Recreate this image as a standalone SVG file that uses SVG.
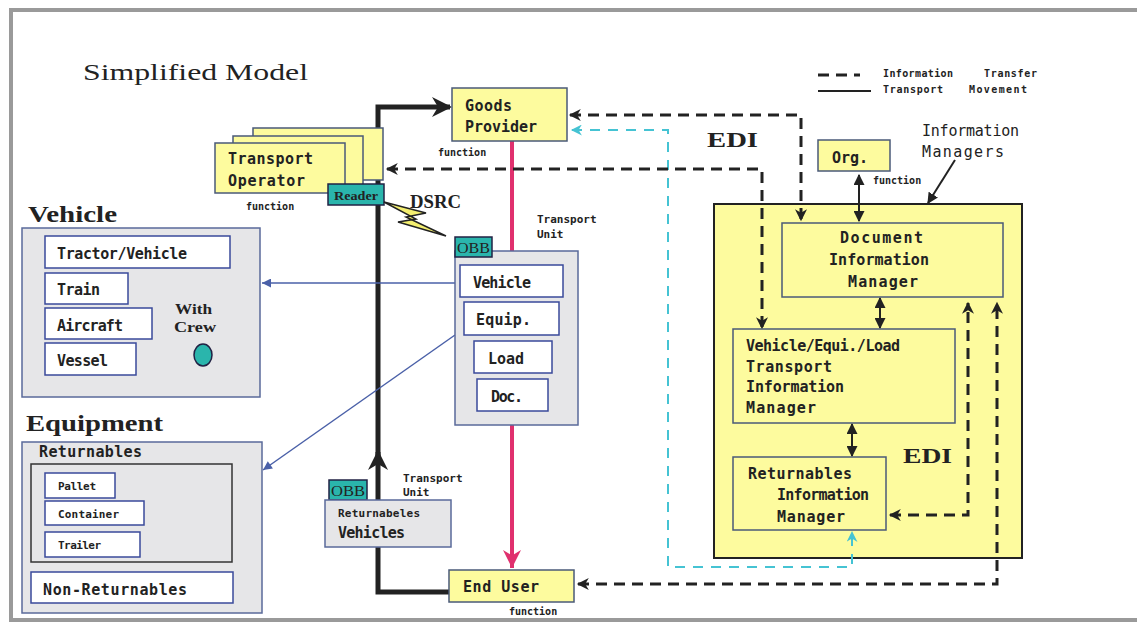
<svg xmlns="http://www.w3.org/2000/svg" width="1137" height="627" viewBox="0 0 1137 627">
<style>
.bg{fill:#fff}
.frame{fill:none;stroke:#9a9a9a;stroke-width:4}
.yel{fill:#fdfb9e;stroke:#4a5a78;stroke-width:1.5}
.yelbig{fill:#fdfb9e;stroke:#222;stroke-width:2}
.gray{fill:#e6e6e8;stroke:#5a6a9a;stroke-width:1.5}
.wbox{fill:#fff;stroke:#3a4a9a;stroke-width:1.5}
.dark{fill:#e6e6e8;stroke:#333;stroke-width:1.5}
.teal{fill:#2ab5ac;stroke:#224;stroke-width:1.5}
.m{font-family:"DejaVu Sans Mono","Liberation Mono",monospace;font-weight:bold;fill:#222}
.m15{font-size:15px}
.m11{font-size:11px}
.m10{font-size:10px}
.mr{font-family:"DejaVu Sans Mono","Liberation Mono",monospace;fill:#222;font-size:15px}
.s{font-family:"Liberation Serif","Times New Roman",serif;fill:#222}
.sb{font-family:"Liberation Serif","Times New Roman",serif;font-weight:bold;fill:#222}
.dash{fill:none;stroke:#222;stroke-width:3;stroke-dasharray:11 7}
.cyan{fill:none;stroke:#45c3d3;stroke-width:2;stroke-dasharray:10 8}
.thick{fill:none;stroke:#222;stroke-width:5}
.pink{fill:none;stroke:#e0306e;stroke-width:4}
.thin{fill:none;stroke:#222;stroke-width:2}
.blue{fill:none;stroke:#4a60a8;stroke-width:1.5}
</style>
<defs>
<marker id="ah" viewBox="0 0 10 10" refX="9" refY="5" markerWidth="13" markerHeight="12" orient="auto-start-reverse" markerUnits="userSpaceOnUse"><path d="M0,0 L10,5 L0,10 L3,5 z" fill="#222"/></marker>
<marker id="ahs" viewBox="0 0 10 10" refX="9" refY="5" markerWidth="11" markerHeight="11" orient="auto-start-reverse" markerUnits="userSpaceOnUse"><path d="M0,0 L10,5 L0,10 z" fill="#222"/></marker>
<marker id="ahc" viewBox="0 0 10 10" refX="9" refY="5" markerWidth="13" markerHeight="11" orient="auto-start-reverse" markerUnits="userSpaceOnUse"><path d="M0,0 L10,5 L0,10 L3,5 z" fill="#45c3d3"/></marker>
<marker id="ahb" viewBox="0 0 10 10" refX="10" refY="5" markerWidth="11" markerHeight="9" orient="auto" markerUnits="userSpaceOnUse"><path d="M0,0 L10,5 L0,10 z" fill="#4a60a8"/></marker>
<marker id="ahk" viewBox="0 0 10 10" refX="9" refY="5" markerWidth="20" markerHeight="26" orient="auto" markerUnits="userSpaceOnUse"><path d="M0,0 L10,5 L0,10 L3,5 z" fill="#222"/></marker>
<marker id="ahp" viewBox="0 0 10 10" refX="10" refY="5" markerWidth="18" markerHeight="22" orient="auto" markerUnits="userSpaceOnUse"><path d="M0,0 L10,5 L0,10 L3,5 z" fill="#e0306e"/></marker>
</defs>
<rect class="bg" x="0" y="0" width="1137" height="627"/>
<rect class="frame" x="11" y="10" width="1140" height="610"/>

<text class="s" x="83" y="80" font-size="24" textLength="225" lengthAdjust="spacingAndGlyphs">Simplified Model</text>

<g id="legend">
<path class="dash" d="M818,75 H860"/>
<path class="thin" d="M818,91 H871" stroke-width="2.5"/>
<text class="m m10" x="883" y="77" textLength="70">Information</text>
<text class="m m10" x="984" y="77" textLength="53">Transfer</text>
<text class="m m10" x="883" y="93" textLength="60">Transport</text>
<text class="m m10" x="969" y="93" textLength="58">Movement</text>
</g>

<g id="information-managers">
<text class="mr" x="922" y="136" textLength="97">Information</text>
<text class="mr" x="922" y="157" textLength="82">Managers</text>
<rect class="yelbig" x="714" y="204" width="308" height="354"/>
<text class="sb" x="903" y="463" font-size="22" textLength="49" lengthAdjust="spacingAndGlyphs">EDI</text>
</g>

<g id="connectors">
<path class="thick" d="M450,592 H378 V547"/>
<path class="thick" d="M378,500 V452" marker-end="url(#ahk)"/>
<path class="thick" d="M378,465 V107 H450" marker-end="url(#ahk)"/>
<path class="pink" d="M512,141 V568" marker-end="url(#ahp)"/>
<path class="blue" d="M455,283 H262" marker-end="url(#ahb)"/>
<path class="blue" d="M455,335 L263,470" marker-end="url(#ahb)"/>
<path class="cyan" d="M572,130 H668 V567 H852 V532" marker-start="url(#ahc)" marker-end="url(#ahc)"/>
<path class="dash" d="M570,115 H801 V220" marker-start="url(#ah)" marker-end="url(#ah)"/>
<path class="dash" d="M387,169 H762 V328" marker-start="url(#ah)" marker-end="url(#ah)"/>
<path class="dash" d="M578,584 H997 V303" marker-start="url(#ah)" marker-end="url(#ah)"/>
<path class="dash" d="M890,515 H968 V303" marker-start="url(#ah)" marker-end="url(#ah)"/>
<path class="thin" d="M859,175 V221" marker-start="url(#ahs)" marker-end="url(#ahs)"/>
<path class="thin" d="M880,298 V328" marker-start="url(#ahs)" marker-end="url(#ahs)"/>
<path class="thin" d="M852,424 V456" marker-start="url(#ahs)" marker-end="url(#ahs)"/>
<path class="thin" d="M955,160 L928,203" marker-end="url(#ahs)"/>
</g>

<g id="goods-provider">
<rect class="yel" x="452" y="88" width="115" height="53"/>
<text class="m m15" x="465" y="111" textLength="47">Goods</text>
<text class="m m15" x="465" y="132" textLength="72">Provider</text>
<text class="m m10" x="438" y="156">function</text>
</g>

<g id="transport-operator">
<rect class="yel" x="253" y="128" width="130" height="52"/>
<rect class="yel" x="233" y="136" width="130" height="52"/>
<rect class="yel" x="215" y="143" width="130" height="50"/>
<text class="m m15" x="228" y="164" textLength="85">Transport</text>
<text class="m m15" x="228" y="186" textLength="77">Operator</text>
<text class="m m10" x="246" y="210">function</text>
</g>

<g id="reader">
<rect class="teal" x="328" y="184" width="56" height="21"/>
<text class="sb" x="334" y="200" font-size="13" textLength="44" lengthAdjust="spacingAndGlyphs">Reader</text>
</g>

<g id="dsrc">
<text class="sb" x="410" y="208" font-size="18" textLength="51" lengthAdjust="spacingAndGlyphs">DSRC</text>
<polygon points="384,202 426,213 406,217 446,236 398,222 416,219" fill="#f4ef70" stroke="#222" stroke-width="1.5"/>
</g>

<g id="transport-unit">
<rect class="gray" x="455" y="251" width="123" height="174"/>
<rect class="teal" x="455" y="237" width="37" height="20"/>
<text class="s" x="457" y="253" font-size="14" textLength="33" lengthAdjust="spacingAndGlyphs">OBB</text>
<text class="m m11" x="537" y="223">Transport</text>
<text class="m m11" x="537" y="238">Unit</text>
<rect class="wbox" x="460" y="265" width="103" height="32"/>
<text class="m m15" x="473" y="288" textLength="58">Vehicle</text>
<rect class="wbox" x="464" y="302" width="95" height="33"/>
<text class="m m15" x="476" y="325" textLength="55">Equip.</text>
<rect class="wbox" x="474" y="341" width="78" height="32"/>
<text class="m m15" x="488" y="364" textLength="36">Load</text>
<rect class="wbox" x="477" y="379" width="71" height="32"/>
<text class="m m15" x="491" y="402" textLength="32">Doc.</text>
</g>

<g id="returnables-vehicles">
<rect class="teal" x="329" y="480" width="38" height="20"/>
<text class="s" x="331" y="496" font-size="14" textLength="34" lengthAdjust="spacingAndGlyphs">OBB</text>
<rect class="gray" x="325" y="500" width="126" height="47"/>
<text class="m m11" x="338" y="517" textLength="82">Returnabeles</text>
<text class="m" x="338" y="538" font-size="15" textLength="67">Vehicles</text>
<text class="m m11" x="403" y="482">Transport</text>
<text class="m m11" x="403" y="496">Unit</text>
</g>

<g id="end-user">
<rect class="yel" x="449" y="570" width="125" height="32"/>
<text class="m m15" x="463" y="592" textLength="76">End User</text>
<text class="m m10" x="509" y="615">function</text>
</g>

<g id="vehicle">
<text class="sb" x="28" y="222" font-size="24" textLength="89" lengthAdjust="spacingAndGlyphs">Vehicle</text>
<rect class="gray" x="22" y="228" width="238" height="169"/>
<rect class="wbox" x="45" y="236" width="185" height="32"/>
<text class="m m15" x="57" y="259" textLength="130">Tractor/Vehicle</text>
<rect class="wbox" x="45" y="273" width="83" height="31"/>
<text class="m m15" x="57" y="295" textLength="43">Train</text>
<rect class="wbox" x="45" y="308" width="107" height="31"/>
<text class="m m15" x="57" y="331" textLength="66">Aircraft</text>
<rect class="wbox" x="45" y="343" width="91" height="32"/>
<text class="m m15" x="57" y="366" textLength="51">Vessel</text>
<text class="sb" x="175" y="314" font-size="15" textLength="37" lengthAdjust="spacingAndGlyphs">With</text>
<text class="sb" x="174" y="332" font-size="15" textLength="42" lengthAdjust="spacingAndGlyphs">Crew</text>
<ellipse cx="203" cy="355" rx="9" ry="11" fill="#2ab5ac" stroke="#224" stroke-width="1.5"/>
</g>

<g id="equipment">
<text class="sb" x="26" y="431" font-size="24" textLength="137" lengthAdjust="spacingAndGlyphs">Equipment</text>
<rect class="gray" x="22" y="442" width="240" height="171"/>
<text class="m m15" x="39" y="457" textLength="103">Returnables</text>
<rect class="dark" x="31" y="464" width="201" height="98"/>
<rect class="wbox" x="45" y="473" width="70" height="25"/>
<text class="m m11" x="58" y="490" textLength="38">Pallet</text>
<rect class="wbox" x="45" y="501" width="99" height="24"/>
<text class="m m11" x="58" y="518" textLength="61">Container</text>
<rect class="wbox" x="45" y="532" width="95" height="25"/>
<text class="m m11" x="58" y="549" textLength="43">Trailer</text>
<rect class="wbox" x="31" y="572" width="202" height="31"/>
<text class="m m15" x="43" y="595" textLength="144">Non-Returnables</text>
</g>

<text class="sb" x="707" y="147" font-size="22" textLength="51" lengthAdjust="spacingAndGlyphs">EDI</text>

<g id="org">
<rect class="yel" x="818" y="140" width="72" height="31"/>
<text class="m m15" x="832" y="163" textLength="36">Org.</text>
<text class="m m10" x="873" y="184">function</text>
</g>

<g id="document-information-manager">
<rect class="yel" x="782" y="223" width="221" height="74"/>
<text class="m m15" x="840" y="243" textLength="83">Document</text>
<text class="m m15" x="829" y="265" textLength="100">Information</text>
<text class="m m15" x="848" y="287" textLength="70">Manager</text>
</g>

<g id="transport-information-manager">
<rect class="yel" x="733" y="329" width="222" height="94"/>
<text class="m m15" x="746" y="351" textLength="154">Vehicle/Equi./Load</text>
<text class="m m15" x="746" y="372" textLength="86">Transport</text>
<text class="m m15" x="746" y="392" textLength="98">Information</text>
<text class="m m15" x="746" y="413" textLength="70">Manager</text>
</g>

<g id="returnables-information-manager">
<rect class="yel" x="733" y="457" width="153" height="73"/>
<text class="m m15" x="748" y="479" textLength="104">Returnables</text>
<text class="m m15" x="777" y="500" textLength="92">Information</text>
<text class="m m15" x="777" y="522" textLength="68">Manager</text>
</g>
</svg>
